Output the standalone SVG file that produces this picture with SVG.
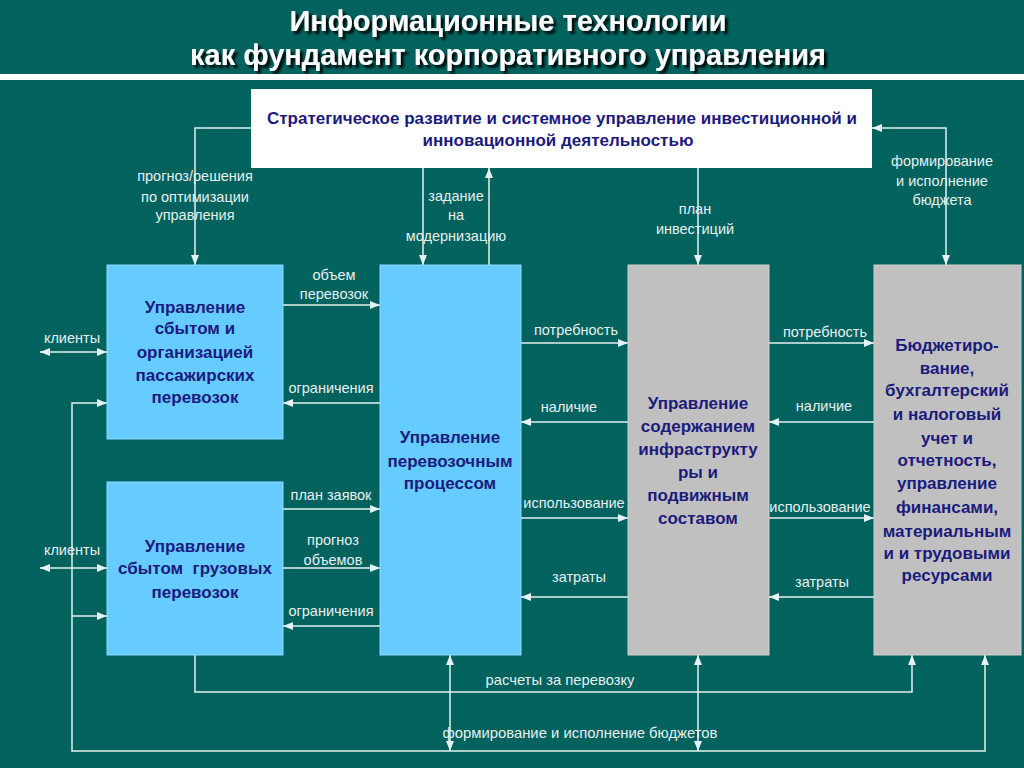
<svg xmlns="http://www.w3.org/2000/svg" width="1024" height="768" viewBox="0 0 1024 768">
<defs>
<style>
.ln{stroke:#e4f2f2;stroke-width:1.5;fill:none}
.a{marker-end:url(#ah)}
.b{marker-start:url(#ah);marker-end:url(#ah)}
.lbl{font-family:"Liberation Sans",Arial,sans-serif;font-size:14.5px;fill:#e8f0f0;text-anchor:middle}
.bt{font-family:"Liberation Sans",Arial,sans-serif;font-size:17px;font-weight:bold;fill:#1b1b7d;text-anchor:middle}
.blue{fill:#66ccff;stroke:#8fd8ff;stroke-width:1}
.gray{fill:#c0c0c0;stroke:#d0d0d0;stroke-width:1}
.title{font-family:"Liberation Sans Narrow","Liberation Sans",Arial,sans-serif;font-size:30px;font-weight:bold;fill:#ffffff;text-anchor:middle;filter:url(#sh)}
</style>
<marker id="ah" viewBox="0 0 10 8" refX="10" refY="4" markerWidth="10" markerHeight="8" markerUnits="userSpaceOnUse" orient="auto-start-reverse">
<path d="M0,0 L10,4 L0,8 z" fill="#e4f2f2"/>
</marker>
<filter id="sh" x="-10%" y="-30%" width="120%" height="160%">
<feDropShadow dx="3" dy="3" stdDeviation="1" flood-color="#000000" flood-opacity="0.9"/>
</filter>
</defs>
<rect x="0" y="0" width="1024" height="768" fill="#01625e"/>
<g id="title">
<text class="title" x="508" y="31" textLength="437" lengthAdjust="spacingAndGlyphs">Информационные технологии</text>
<text class="title" x="508" y="65" textLength="636" lengthAdjust="spacingAndGlyphs">как фундамент корпоративного управления</text>
<rect x="0" y="74" width="1024" height="6" fill="#ffffff"/>
</g>
<g id="connectors">
<path class="ln a" d="M251,128 H195 V265"/>
<path class="ln a" d="M423,168 V265"/>
<path class="ln a" d="M489,265 V168"/>
<path class="ln a" d="M698,168 V265"/>
<path class="ln b" d="M946,265 V128 H872"/>
<path class="ln a" d="M283,305 H380"/>
<path class="ln a" d="M380,403 H283"/>
<path class="ln b" d="M40,352 H107"/>
<path class="ln a" d="M283,509 H380"/>
<path class="ln a" d="M283,568 H380"/>
<path class="ln a" d="M380,626 H283"/>
<path class="ln b" d="M40,568 H107"/>
<path class="ln b" d="M107,403 H72 V751 H985 V655"/>
<path class="ln a" d="M72,616 H107"/>
<path class="ln a" d="M521,343 H628"/>
<path class="ln a" d="M628,422 H521"/>
<path class="ln a" d="M521,518 H628"/>
<path class="ln a" d="M628,597 H521"/>
<path class="ln a" d="M769,343 H874"/>
<path class="ln a" d="M874,422 H769"/>
<path class="ln a" d="M769,518 H874"/>
<path class="ln a" d="M874,597 H769"/>
<path class="ln a" d="M195,655 V692 H912 V655"/>
<path class="ln b" d="M450,655 V751"/>
<path class="ln b" d="M698,655 V751"/>
</g>
<g id="labels">
<text class="lbl" x="195" y="181">прогноз/решения</text>
<text class="lbl" x="195" y="202">по оптимизации</text>
<text class="lbl" x="195" y="220">управления</text>
<text class="lbl" x="456" y="201">задание</text>
<text class="lbl" x="456" y="220">на</text>
<text class="lbl" x="456" y="241">модернизацию</text>
<text class="lbl" x="695" y="214">план</text>
<text class="lbl" x="695" y="234">инвестиций</text>
<text class="lbl" x="942" y="166">формирование</text>
<text class="lbl" x="942" y="186">и исполнение</text>
<text class="lbl" x="942" y="205">бюджета</text>
<text class="lbl" x="334" y="280">объем</text>
<text class="lbl" x="334" y="299">перевозок</text>
<text class="lbl" x="331" y="393">ограничения</text>
<text class="lbl" x="72" y="343">клиенты</text>
<text class="lbl" x="331" y="500">план заявок</text>
<text class="lbl" x="333" y="545">прогноз</text>
<text class="lbl" x="333" y="565">объемов</text>
<text class="lbl" x="331" y="616">ограничения</text>
<text class="lbl" x="72" y="555">клиенты</text>
<text class="lbl" x="576" y="335">потребность</text>
<text class="lbl" x="569" y="412">наличие</text>
<text class="lbl" x="574" y="508">использование</text>
<text class="lbl" x="579" y="582">затраты</text>
<text class="lbl" x="825" y="337">потребность</text>
<text class="lbl" x="824" y="411">наличие</text>
<text class="lbl" x="820" y="512">использование</text>
<text class="lbl" x="822" y="587">затраты</text>
<text class="lbl" x="560" y="685" textLength="149" lengthAdjust="spacingAndGlyphs">расчеты за перевозку</text>
<text class="lbl" x="580" y="738" textLength="275" lengthAdjust="spacingAndGlyphs">формирование и исполнение бюджетов</text>
</g>
<g id="strategy">
<rect x="251" y="89" width="621" height="79" fill="#ffffff"/>
<text class="bt" style="font-size:17px" x="562" y="124">Стратегическое развитие и системное управление инвестиционной и</text>
<text class="bt" style="font-size:17px" x="558" y="146">инновационной деятельностью</text>
</g>
<g id="passenger">
<rect class="blue" x="107" y="265" width="176" height="174"/>
<text class="bt" x="195" y="313">Управление</text>
<text class="bt" x="195" y="334">сбытом и</text>
<text class="bt" x="195" y="358">организацией</text>
<text class="bt" x="195" y="381">пассажирских</text>
<text class="bt" x="195" y="403">перевозок</text>
</g>
<g id="freight">
<rect class="blue" x="107" y="482" width="176" height="173"/>
<text class="bt" x="195" y="552">Управление</text>
<text class="bt" x="195" y="574" xml:space="preserve">сбытом  грузовых</text>
<text class="bt" x="195" y="598">перевозок</text>
</g>
<g id="process">
<rect class="blue" x="380" y="265" width="141" height="390"/>
<text class="bt" x="450" y="443">Управление</text>
<text class="bt" x="450" y="467">перевозочным</text>
<text class="bt" x="450" y="489">процессом</text>
</g>
<g id="infrastructure">
<rect class="gray" x="628" y="265" width="141" height="390"/>
<text class="bt" x="698" y="409">Управление</text>
<text class="bt" x="698" y="432">содержанием</text>
<text class="bt" x="698" y="455">инфраструкту</text>
<text class="bt" x="698" y="478">ры и</text>
<text class="bt" x="698" y="501">подвижным</text>
<text class="bt" x="698" y="524">составом</text>
</g>
<g id="budget">
<rect class="gray" x="874" y="265" width="147" height="390"/>
<text class="bt" x="947" y="351">Бюджетиро-</text>
<text class="bt" x="947" y="374">вание,</text>
<text class="bt" x="947" y="396">бухгалтерский</text>
<text class="bt" x="947" y="420">и налоговый</text>
<text class="bt" x="947" y="444">учет и</text>
<text class="bt" x="947" y="466">отчетность,</text>
<text class="bt" x="947" y="489">управление</text>
<text class="bt" x="947" y="513">финансами,</text>
<text class="bt" x="947" y="537">материальным</text>
<text class="bt" x="947" y="559">и и трудовыми</text>
<text class="bt" x="947" y="581">ресурсами</text>
</g>
</svg>
